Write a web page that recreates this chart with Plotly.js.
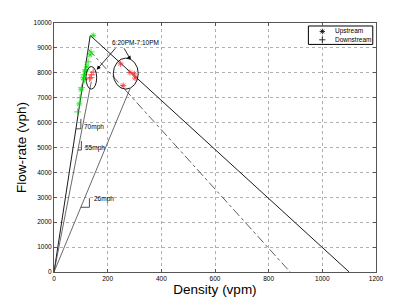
<!DOCTYPE html>
<html>
<head>
<meta charset="utf-8">
<script src="https://cdn.plot.ly/plotly-3.0.1.min.js"></script>
<style>html,body{margin:0;padding:0;background:#fff;}#chart{width:415px;height:306px;}</style>
</head>
<body>
<div id="chart"></div>
<script>
// ---- data ----
var upstreamGreenX   = [146, 134, 122, 116, 109, 101, 94];
var upstreamGreenY   = [9500, 8720, 8240, 8040, 7800, 7320, 6750];
var downstreamGreenX = [138, 127, 119, 112, 113, 103, 97, 88];
var downstreamGreenY = [8840, 8440, 8120, 7920, 7720, 7400, 7000, 6430];
var upstreamRedX     = [248, 283, 299, 302, 258];
var upstreamRedY     = [8360, 8010, 7960, 7790, 7490];
var downstreamRedX   = [146, 140, 137, 132];
var downstreamRedY   = [8030, 7920, 7810, 7760];

// fundamental diagram lines
var triangleX = [0, 135, 1100];
var triangleY = [0, 9500, 0];
var dashCongX = [128, 880];
var dashCongY = [8950, 0];
var speeds      = [70, 55, 26];
var speedLabels = ['70mph', '55mph', '26mph'];
var speedLineEndX = [null, 139, 283];   // 70mph line is the triangle's rising side

// ellipses [x0, x1, y0, y1]
var smallEllipse = [119, 159, 7345, 8253];
var largeEllipse = [221, 314, 7345, 8590];

var xTicks = [0, 200, 400, 600, 800, 1000, 1200];
var yTicks = [0, 1000, 2000, 3000, 4000, 5000, 6000, 7000, 8000, 9000, 10000];
var annotationText = '6:20PM-7:10PM';
var legendNames = ['Upstream', 'Downstream'];

// ---- layout helpers (positions/styles) ----
var bracketY = [5750, 4900, 2600];
var bracketW = [18, 13, 32];
var bracketH = [400, 360, 360];
var labelPos = [[105, 5820], [108, 4990], [142, 2935]];

var FONT = 'Liberation Sans, Arial, sans-serif';
var traces = [];

traces.push({x: triangleX, y: triangleY, mode: 'lines', line: {color: '#000', width: 0.9}, showlegend: false, hoverinfo: 'skip'});
traces.push({x: dashCongX, y: dashCongY, mode: 'lines', line: {color: '#333', width: 0.8, dash: 'dashdot'}, showlegend: false, hoverinfo: 'skip'});
for (var i = 1; i < speeds.length; i++) {
  var xe = speedLineEndX[i];
  traces.push({x: [0, xe], y: [0, speeds[i] * xe], mode: 'lines', line: {color: '#444', width: 0.8}, showlegend: false, hoverinfo: 'skip'});
}
// slope brackets
for (var j = 0; j < speeds.length; j++) {
  var x0 = bracketY[j] / speeds[j];
  traces.push({x: [x0, x0 + bracketW[j], x0 + bracketW[j]], y: [bracketY[j], bracketY[j], bracketY[j] + bracketH[j]],
    mode: 'lines', line: {color: '#000', width: 0.7}, showlegend: false, hoverinfo: 'skip'});
}

function pts(x, y, sym, col) {
  return {x: x, y: y, mode: 'markers', showlegend: false,
    marker: {symbol: sym, size: 5, color: col, line: {color: col, width: 0.8}}};
}
traces.push(pts(upstreamGreenX, upstreamGreenY, 'asterisk-open', '#00e600'));
traces.push(pts(downstreamGreenX, downstreamGreenY, 'cross-thin-open', '#00e600'));
traces.push(pts(upstreamRedX, upstreamRedY, 'asterisk-open', '#ff3030'));
traces.push(pts(downstreamRedX, downstreamRedY, 'cross-thin-open', '#ff3030'));

// manual legend markers (data coords of legend box interior)
var legX = [1000, 1000];
var legY = [9660, 9325];
traces.push({x: [legX[0]], y: [legY[0]], mode: 'markers', showlegend: false, hoverinfo: 'skip',
  marker: {symbol: 'asterisk-open', size: 4.5, color: '#000', line: {color: '#000', width: 0.8}}});
traces.push({x: [legX[1]], y: [legY[1]], mode: 'markers', showlegend: false, hoverinfo: 'skip',
  marker: {symbol: 'cross-thin-open', size: 4.5, color: '#000', line: {color: '#000', width: 0.8}}});

var annotations = [];
for (var k = 0; k < speeds.length; k++) {
  annotations.push({x: labelPos[k][0], y: labelPos[k][1], xref: 'x', yref: 'y', text: speedLabels[k],
    showarrow: false, xanchor: 'left', yanchor: 'middle', font: {family: FONT, size: 6.5, color: '#000'}});
}
annotations.push({x: 209, y: 9220, xref: 'x', yref: 'y', text: annotationText, showarrow: false,
  xanchor: 'left', yanchor: 'middle', font: {family: FONT, size: 6.5, color: '#000'}});
annotations.push({x: 159, y: 8120, ax: 234, ay: 9045, xref: 'x', yref: 'y', axref: 'x', ayref: 'y', text: '',
  showarrow: true, arrowhead: 2, arrowsize: 1, arrowwidth: 0.8, arrowcolor: '#000'});
annotations.push({x: 286, y: 8520, ax: 258, ay: 9045, xref: 'x', yref: 'y', axref: 'x', ayref: 'y', text: '',
  showarrow: true, arrowhead: 2, arrowsize: 1, arrowwidth: 0.8, arrowcolor: '#000'});
// legend texts
annotations.push({x: 0.867, y: 0.966, xref: 'paper', yref: 'paper', text: legendNames[0], showarrow: false,
  xanchor: 'left', yanchor: 'middle', font: {family: FONT, size: 6.5, color: '#000'}});
annotations.push({x: 0.867, y: 0.933, xref: 'paper', yref: 'paper', text: legendNames[1], showarrow: false,
  xanchor: 'left', yanchor: 'middle', font: {family: FONT, size: 6.5, color: '#000'}});

var shapes = [
  {type: 'circle', xref: 'x', yref: 'y', x0: smallEllipse[0], x1: smallEllipse[1], y0: smallEllipse[2], y1: smallEllipse[3], line: {color: '#000', width: 0.9}},
  {type: 'circle', xref: 'x', yref: 'y', x0: largeEllipse[0], x1: largeEllipse[1], y0: largeEllipse[2], y1: largeEllipse[3], line: {color: '#000', width: 0.9}},
  {type: 'rect', xref: 'paper', yref: 'paper', x0: 0.79, x1: 0.99, y0: 0.914, y1: 0.988, layer: 'between',
    fillcolor: '#fff', line: {color: '#000', width: 1}}
];

var axisCommon = {
  showgrid: true, gridcolor: '#b0b0b0', griddash: 'dot', gridwidth: 1,
  showline: true, linecolor: '#555', linewidth: 1, mirror: 'ticks',
  ticks: 'inside', ticklen: 3, tickcolor: '#555', zeroline: false,
  tickfont: {family: FONT, size: 6.5, color: '#000'}
};

var layout = {
  width: 415, height: 306,
  margin: {l: 54, r: 39, t: 23, b: 34},
  paper_bgcolor: '#fff', plot_bgcolor: '#fff',
  showlegend: false,
  xaxis: Object.assign({}, axisCommon, {range: [0, 1200], tickmode: 'array', tickvals: xTicks, ticktext: xTicks.map(String),
    title: {text: 'Density (vpm)', font: {family: FONT, size: 13.5, color: '#000'}, standoff: 0}}),
  yaxis: Object.assign({}, axisCommon, {range: [0, 10000], tickmode: 'array', tickvals: yTicks, ticktext: yTicks.map(String),
    title: {text: 'Flow-rate (vph)', font: {family: FONT, size: 13.5, color: '#000'}, standoff: 3}}),
  annotations: annotations,
  shapes: shapes
};

Plotly.newPlot('chart', traces, layout, {staticPlot: true, displayModeBar: false});
</script>
</body>
</html>
